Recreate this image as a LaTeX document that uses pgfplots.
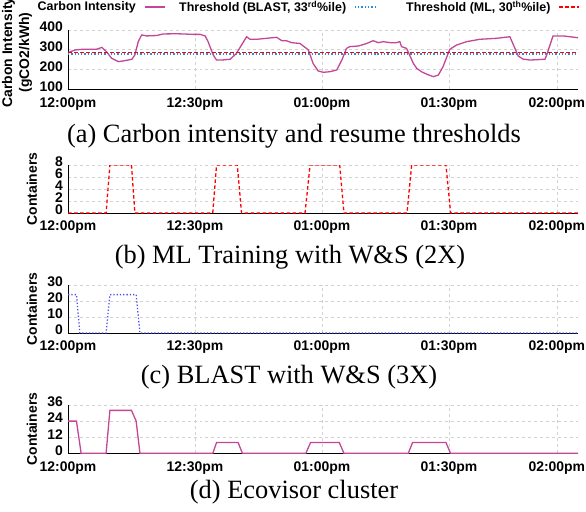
\documentclass[border=0pt]{standalone}
\usepackage{pgfplots}
\pgfplotsset{compat=1.18}
\usepackage{fontspec}
\setmainfont{Liberation Serif}
\setsansfont{Liberation Sans}
\definecolor{cimag}{RGB}{196,70,150}
\definecolor{blastblue}{RGB}{40,140,220}
\definecolor{blastblue2}{RGB}{80,80,240}
\definecolor{gridgray}{RGB}{210,210,210}
\newcommand{\tickfont}{\sffamily\bfseries\fontsize{14}{17}\selectfont}
\newcommand{\legfont}{\sffamily\bfseries\fontsize{12.5}{14}\selectfont}
\newcommand{\capfont}{\rmfamily\fontsize{26.5}{28}\selectfont}
\pgfplotsset{
  panel/.style={
    scale only axis, width=510bp,
    xmin=0, xmax=120.5,
    axis x line*=bottom, axis y line*=left,
    axis line style={black, line width=1bp, -},
    xtick={0,30,60,90,115.5},
    xticklabels={12:00pm,12:30pm,01:00pm,01:30pm,02:00pm},
    major tick length=0pt,
    grid=major,
    major grid style={gridgray, dashed, line width=0.6bp},
    tick label style={font=\tickfont},
    /pgf/number format/assume math mode=true,
    xticklabel style={inner sep=1bp, anchor=north, yshift=-7bp},
    yticklabel style={inner sep=0bp, xshift=-5bp, yshift=3bp},
    ylabel style={font=\tickfont, at={(axis description cs:-0.0706,0.5)}, anchor=center},
  }
}
\begin{document}
\begin{tikzpicture}
\useasboundingbox (0,0) rectangle (586bp,-512bp);
% (a)
\begin{axis}[panel, at={(68bp,-30bp)}, anchor=north west, height=59.3bp,
  ymin=100, ymax=400, ytick={100,200,300,400},
  ylabel={Carbon Intensity\\(gCO2/kWh)},
  ylabel style={align=center, at={(axis description cs:-0.1,0.62)}},
  legend columns=3, legend plot pos=right,
  legend style={at={(axis description cs:1.0039,1.39)}, anchor=east, draw=none, fill=none,
    column sep=8bp, font=\legfont, inner sep=0pt, nodes={inner sep=0pt}},
  legend image code/.code={\draw[#1] (0bp,0bp) -- (20bp,0bp);}]
\addplot[cimag, line width=1.3bp] coordinates {
(0,285) (1.65,299) (3.2,302) (6.8,303) (8.0,312) (9.1,290) (10.3,257) (11.9,240) (13.5,245) (15.1,252)
(15.8,274) (16.6,341) (17.4,375) (18.6,370) (20.9,372) (22.5,380) (25.7,381) (29.6,378) (31.2,378) (32.4,370)
(33.1,341) (34.3,274) (35.1,248) (36.3,248) (38.3,252) (39.8,282) (41.0,324) (42.2,366) (43.0,353) (44.6,353)
(46.9,358) (49.3,363) (50.5,346) (51.6,346) (52.8,336) (54.8,332) (56.8,299) (57.9,231) (59.1,193) (60.3,186)
(61.9,189) (63.5,198) (64.7,248) (65.8,307) (66.6,316) (68.6,319) (70.6,332) (72.1,346) (73.3,336) (74.5,341)
(76.1,336) (77.6,336) (78.4,341) (78.8,316) (80.0,307) (81.6,231) (82.4,206) (83.5,189) (84.7,177) (86.3,164)
(87.5,172) (88.6,214) (90.2,302) (91.8,324) (94.2,341) (97.3,353) (101.3,358) (104.4,366) (106.4,268) (107.5,253)
(109.1,248) (112.7,252) (113.1,274) (114.6,370) (117.0,370) (120.5,361)};
\addlegendentry{\makebox[100bp][r]{Carbon Intensity}}
\addplot[blastblue, line width=1.3bp, dotted] coordinates {(0,278) (120.5,278)};
\addlegendentry{\makebox[173bp][r]{Threshold (BLAST, 33\textsuperscript{rd}\%ile)}}
\addplot[red, line width=1.3bp, dash pattern=on 3.5bp off 2.5bp] coordinates {(0,285) (120.5,285)};
\addlegendentry{\makebox[167bp][r]{Threshold (ML, 30\textsuperscript{th}\%ile)}}
\end{axis}
% (b)
\begin{axis}[panel, at={(68bp,-165bp)}, anchor=north west, height=48bp,
  ymin=0, ymax=8, ytick={0,2,4,6,8}, ylabel={Containers}]
\addplot[red, line width=1.3bp, dash pattern=on 3.5bp off 2.5bp] coordinates {
(0,0) (9.0,0) (9.9,8) (15.0,8) (15.8,0) (34.2,0) (35.1,8) (40.0,8) (41.0,0) (56.0,0) (57.2,8)
(64.2,8) (65.2,0) (80.1,0) (81.2,8) (89.3,8) (90.4,0) (120.5,0)};
\end{axis}
% (c)
\begin{axis}[panel, at={(68bp,-285bp)}, anchor=north west, height=48bp,
  ymin=0, ymax=30, ytick={0,10,20,30}, ylabel={Containers}]
\addplot[blastblue2, line width=1.3bp, dotted] coordinates {
(0,24) (2.0,24) (2.8,0) (9.0,0) (9.9,24) (16.1,24) (17.0,0) (120.5,0)};
\end{axis}
% (d)
\begin{axis}[panel, at={(68bp,-405bp)}, anchor=north west, height=48.3bp,
  ymin=0, ymax=36, ytick={0,12,24,36}, ylabel={Containers}]
\addplot[cimag, line width=1.3bp] coordinates {
(0,24) (2.0,24) (3.1,0) (9.0,0) (9.9,32) (15.0,32) (16.1,24) (17.0,0) (34.2,0) (35.1,8) (40.2,8)
(41.2,0) (56.2,0) (57.3,8) (64.1,8) (65.2,0) (80.4,0) (81.4,8) (89.3,8) (90.4,0) (120.5,0)};
\end{axis}
\node[font=\capfont] at (294bp,-136bp) {(a) Carbon intensity and resume thresholds};
\node[font=\capfont] at (290bp,-257bp) {(b) ML Training with W\&S (2X)};
\node[font=\capfont] at (289bp,-377bp) {(c) BLAST with W\&S (3X)};
\node[font=\capfont] at (294bp,-492bp) {(d) Ecovisor cluster};
\end{tikzpicture}
\end{document}
